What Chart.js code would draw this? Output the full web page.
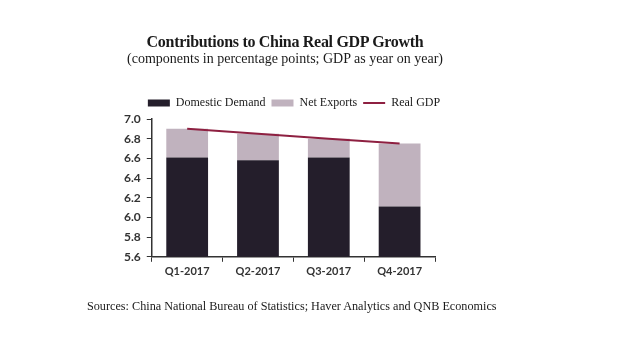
<!DOCTYPE html>
<html><head><meta charset="utf-8">
<script src="https://cdn.jsdelivr.net/npm/chart.js@4/dist/chart.umd.min.js"></script>
<style>
html,body{margin:0;padding:0;background:#fff;}
#wrap{position:relative;width:620px;height:355px;overflow:hidden;}
canvas{position:absolute;left:0;top:0;}
.t{position:absolute;left:0;width:570px;text-align:center;font-family:"Liberation Serif",serif;color:#1a1a1a;white-space:nowrap;}
#title{top:33px;font-size:16px;font-weight:bold;letter-spacing:-0.3px;}
#sub{top:51px;font-size:14px;}
#src{position:absolute;left:87px;top:299px;font-family:"Liberation Serif",serif;font-size:12.2px;color:#1a1a1a;white-space:nowrap;}
</style></head>
<body><div id="wrap">
<canvas id="c" width="620" height="355"></canvas>
<div class="t" id="title">Contributions to China Real GDP Growth</div>
<div class="t" id="sub">(components in percentage points; GDP as year on year)</div>
<div id="src">Sources: China National Bureau of Statistics; Haver Analytics and QNB Economics</div>
</div>
<script>
const categories = ["Q1-2017", "Q2-2017", "Q3-2017", "Q4-2017"];
const domesticDemand = [6.61, 6.58, 6.61, 6.11];
const netExports = [0.29, 0.27, 0.19, 0.64];
const realGDP = [6.9, 6.85, 6.8, 6.75];
const yTicks = [5.6, 5.8, 6.0, 6.2, 6.4, 6.6, 6.8, 7.0];

const axisColor = "#333333";
new Chart(document.getElementById("c"), {
  data: {
    labels: categories,
    datasets: [
      {type: "bar", label: "Domestic Demand", data: domesticDemand, backgroundColor: "#241E2B", stack: "s", categoryPercentage: 0.59, barPercentage: 1.0, order: 2},
      {type: "bar", label: "Net Exports", data: netExports, backgroundColor: "#C0B2BE", stack: "s", categoryPercentage: 0.59, barPercentage: 1.0, order: 2},
      {type: "line", label: "Real GDP", data: realGDP, borderColor: "#8E2041", backgroundColor: "#8E2041", borderWidth: 2, pointRadius: 0, tension: 0, stack: "gdp", order: 1}
    ]
  },
  options: {
    responsive: false,
    animation: false,
    layout: {padding: {top: 91, left: 118, right: 150, bottom: 74}},
    plugins: {
      tooltip: {enabled: false},
      legend: {
        position: "top",
        align: "center",
        labels: {
          font: {family: "Liberation Serif", size: 12},
          color: "#1a1a1a",
          usePointStyle: true,
          pointStyleWidth: 22,
          boxHeight: 7,
          padding: 6,
          sort: (a, b) => a.datasetIndex - b.datasetIndex,
          generateLabels(chart) {
            const items = Chart.defaults.plugins.legend.labels.generateLabels(chart);
            items.forEach(it => {
              if (it.datasetIndex < 2) { it.pointStyle = "rect"; it.lineWidth = 0; }
              else { it.pointStyle = "line"; it.lineWidth = 2; it.strokeStyle = "#8E2041"; }
            });
            return items;
          }
        }
      }
    },
    scales: {
      x: {
        stacked: true,
        grid: {display: true, drawOnChartArea: false, drawTicks: true, tickLength: 5, color: axisColor, offset: true},
        border: {display: true, color: axisColor, width: 1.5},
        ticks: {font: {family: "Lato", size: 11, weight: "bold"}, color: "#333", padding: 3}
      },
      y: {
        stacked: true,
        min: 5.6, max: 7.0,
        afterBuildTicks(axis) { axis.ticks = yTicks.map(v => ({value: v})); },
        grid: {display: true, drawOnChartArea: false, drawTicks: true, tickLength: 5, color: axisColor},
        border: {display: true, color: axisColor, width: 1.5},
        ticks: {font: {family: "Lato", size: 12, weight: "bold"}, color: "#333", padding: 6, autoSkip: false, callback: v => Number(v).toFixed(1)}
      },
      y2: {
        position: "right",
        display: true,
        grid: {display: false, drawTicks: false},
        border: {display: false},
        ticks: {display: false},
        afterFit(s) { s.width = 35; }
      }
    }
  }
});
</script>
</body></html>
